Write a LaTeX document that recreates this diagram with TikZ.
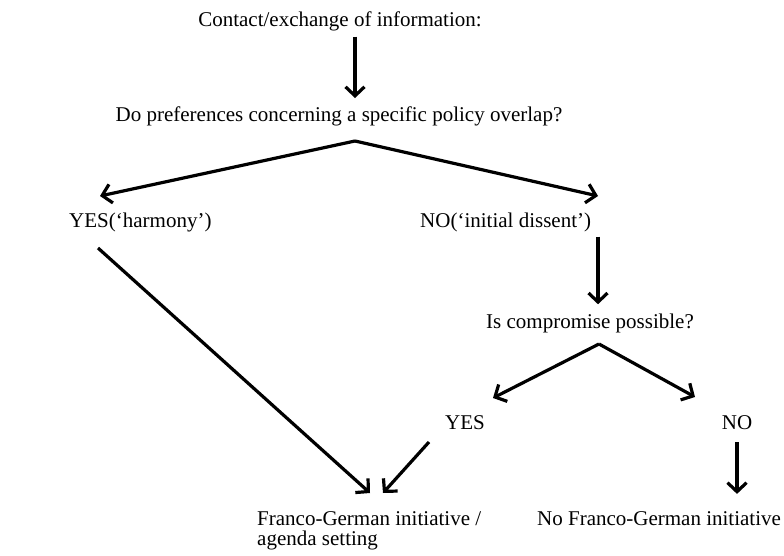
\documentclass[tikz,border=0pt]{standalone}
\usepackage{fontspec}
\setmainfont{Liberation Serif}
\usetikzlibrary{arrows.meta}
\begin{document}
\begin{tikzpicture}[x=1pt,y=-1pt,
  lbl/.style={inner sep=0pt,font=\fontsize{21}{20}\selectfont},
  arr/.style={line width=3.2pt,-{Straight Barb[length=9pt,width=19pt,line width=3.2pt]}}]
\useasboundingbox (0,0) rectangle (784,556);
% text nodes
\node[lbl,anchor=base] (c1) at (340,27) {Contact/exchange of information:};
\node[lbl,anchor=base] (q1) at (339,122) {Do preferences concerning a specific policy overlap?};
\node[lbl,anchor=base west] (y1) at (69,227) {YES(`harmony')};
\node[lbl,anchor=base west] (n1) at (420,227) {NO(`initial dissent')};
\node[lbl,anchor=base] (q2) at (590,328) {Is compromise possible?};
\node[lbl,anchor=base] (y2) at (465,429) {YES};
\node[lbl,anchor=base] (n2) at (737,429) {NO};
\node[lbl,anchor=base west,align=left] (f1) at (257,545) {Franco-German initiative /\\agenda setting};
\node[lbl,anchor=base west] (f2) at (537,525) {No Franco-German initiative};
% junction points and free ends
\coordinate (a1) at (355,141);
\coordinate (a2) at (599,344);
\coordinate (t1) at (100,196);
\coordinate (t2) at (598,196);
\coordinate (t3) at (493,398);
\coordinate (t4) at (695,397);
\coordinate (s1) at (98,248);
\coordinate (e1) at (370,493);
\coordinate (s2) at (429,442);
\coordinate (e2) at (383,493);
% connectors
\draw[arr] ([yshift=-5pt]c1.south -| a1) -- ([yshift=9pt]q1.north -| a1);
\draw[arr] (a1) -- (t1);
\draw[arr] (a1) -- (t2);
\draw[arr] ([yshift=-5pt]n1.south -| t2) -- ([yshift=9pt]q2.north -| t2);
\draw[arr] (a2) -- (t3);
\draw[arr] (a2) -- (t4);
\draw[arr] (s1) -- (e1);
\draw[arr] (s2) -- (e2);
\draw[arr] ([yshift=-13pt]n2.south) -- ([yshift=17pt]f2.north -| n2);
\end{tikzpicture}
\end{document}
